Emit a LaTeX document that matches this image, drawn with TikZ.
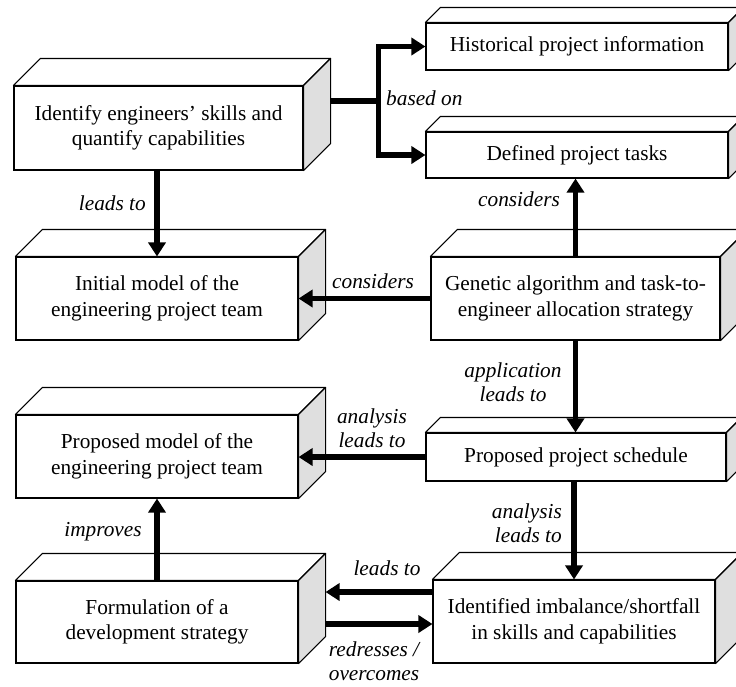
\documentclass[tikz,border=0pt]{standalone}
\usepackage{fontspec}
\setmainfont{Liberation Serif}
\usetikzlibrary{arrows.meta,calc}
\begin{document}
\begin{tikzpicture}[x=1pt,y=-1pt,
  box/.style={draw=black, line width=1.1pt, fill=white, align=center, inner sep=0pt,
    font=\fontsize{21.3}{25.5}\selectfont},
  lab/.style={font=\fontsize{21.3}{24}\selectfont\itshape, align=center, inner sep=0pt},
  arr/.style={line width=5.5pt, line join=miter, -{Triangle[length=14pt,width=17pt]}},
  arrtwo/.style={line width=5.5pt, line join=miter, {Triangle[length=14pt,width=17pt]}-{Triangle[length=14pt,width=17pt]}},
  con/.style={line width=5.5pt}]
\useasboundingbox (0,0) rectangle (736,686);
\clip (0,0) rectangle (736,686);
\newcommand\mysolid[2]{%
  \draw[line width=1.1pt, fill=white, line join=round] (#1.north west) -- ++(#2,-#2) -- ($(#1.north east)+(#2,-#2)$) -- (#1.north east) -- cycle;
  \draw[line width=1.1pt, fill=gray!25, line join=round] (#1.north east) -- ($(#1.north east)+(#2,-#2)$) -- ($(#1.south east)+(#2,-#2)$) -- (#1.south east) -- cycle;
}
% left column
\node[box, minimum width=289pt, minimum height=84pt] (skills) at (158.5,128) {Identify engineers' skills and\\quantify capabilities};
\mysolid{skills}{27}
\node[box, minimum width=282pt, minimum height=83pt] (initial) at (157,298.5) {Initial model of the\\engineering project team};
\mysolid{initial}{27}
\node[box, minimum width=282pt, minimum height=83pt] (propmodel) at (157,456.5) {Proposed model of the\\engineering project team};
\mysolid{propmodel}{27}
\node[box, minimum width=282pt, minimum height=82pt] (formul) at (157,622) {Formulation of a\\development strategy};
\mysolid{formul}{27}
% right column
\node[box, minimum width=302pt, minimum height=47pt] (hist) at (577,46.5) {Historical project information};
\mysolid{hist}{15}
\node[box, minimum width=302pt, minimum height=46pt] (tasks) at (577,155) {Defined project tasks};
\mysolid{tasks}{15}
\node[box, minimum width=289pt, minimum height=83pt] (genetic) at (575.5,298.5) {Genetic algorithm and task-to-\\engineer allocation strategy};
\mysolid{genetic}{27}
\node[box, minimum width=300pt, minimum height=48pt] (sched) at (576,457) {Proposed project schedule};
\mysolid{sched}{15}
\node[box, minimum width=282pt, minimum height=83pt] (imbal) at (574,621.5) {Identified imbalance/shortfall\\in skills and capabilities};
\mysolid{imbal}{27}
% connectors
\coordinate (skr) at ($(skills.east)+(27,-27)$);
\coordinate (split) at ($(skr)+(48,0)$);
\draw[con] (skr) -- (split);
\draw[arrtwo] (hist.west) -| (split) |- (tasks.west);
\node[lab, anchor=west] at (386,98) {based on};

\draw[arr] (skills.south -| initial.north) -- (initial.north);
\node[lab, anchor=east] at (146,203) {leads to};

\draw[arr] (genetic.west) -- (genetic.west -| initial.east);
\node[lab] at (373,281) {considers};

\draw[arr] (genetic.north) -- (genetic.north |- tasks.south);
\node[lab] at (519,199) {considers};

\draw[arr] (genetic.south) -- (genetic.south |- sched.north);
\node[lab] at (513,382) {application\\leads to};

\draw[arr] (sched.west) -- (sched.west -| propmodel.east);
\node[lab] at (372,428) {analysis\\leads to};

\draw[arr] (imbal.north |- sched.south) -- (imbal.north);
\node[lab, align=right, anchor=east] at (562,523) {analysis\\leads to};

\coordinate (fa) at ($(formul.east)+(27,-30)$);
\coordinate (fb) at ($(formul.east)+(27,2)$);
\draw[arr] (fa -| imbal.west) -- (fa);
\draw[arr] (fb) -- (fb -| imbal.west);
\node[lab] at (387,568) {leads to};
\node[lab] at (374,661) {redresses /\\overcomes};

\draw[arr] (formul.north) -- (propmodel.south);
\node[lab] at (103,532) {improves};
\end{tikzpicture}
\end{document}
